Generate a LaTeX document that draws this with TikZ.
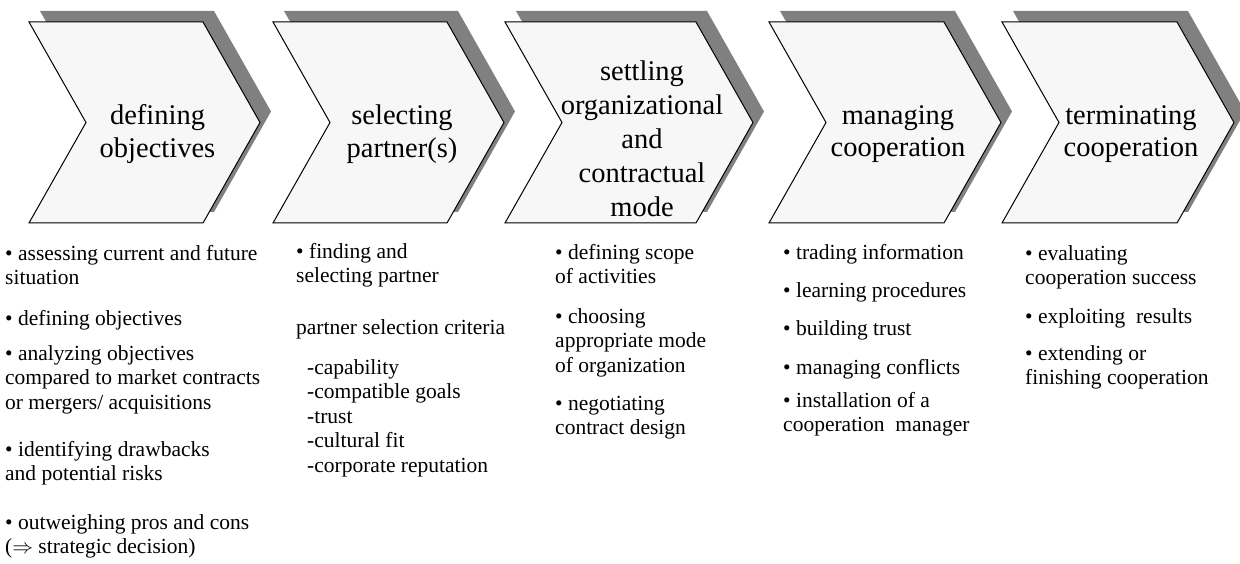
\documentclass[tikz,border=0pt]{standalone}
\usepackage{fontspec}
\setmainfont{Liberation Serif}
\usetikzlibrary{shadows, positioning}

\tikzset{
  stage/.style={draw=black, line width=1pt, fill=black!3, line join=miter,
    drop shadow={shadow xshift=11pt, shadow yshift=11pt, opacity=1, fill=black!50}},
  stagetext/.style={align=center, inner sep=0pt, font=\fontsize{28.5}{32.5}\selectfont},
  items/.style={anchor=north west, align=left, inner sep=0pt, font=\fontsize{21.5}{24.5}\selectfont}
}

\begin{document}
\begin{tikzpicture}[x=1pt, y=-1pt]
\useasboundingbox (0,0) rectangle (1240,564);

% the five phases
\foreach \x/\w in {29/174, 273/174, 505/191, 769/175, 1002/175}
  \draw[stage] (\x,22) -- ++(\w,0) -- ++(57,100.5) -- ++(-57,100.5) -- ++(-\w,0) -- ++(57,-100.5) -- cycle;

\node[stagetext] (objectives) at (157.5,134) {defining\\objectives};
\node[stagetext] (partner) at (402,134) {selecting\\partner(s)};
\node[stagetext, font=\fontsize{28.5}{34}\selectfont] (mode) at (642,139) {settling\\organizational\\and\\contractual\\mode};
\node[stagetext] (managing) at (898,134) {managing\\cooperation};
\node[stagetext] (terminating) at (1131,134) {terminating\\cooperation};

% what each phase involves
\node[items] (objlist) at (5,245) {\textbullet\ assessing current and future\\situation\\[16pt]
  \textbullet\ defining objectives\\[10.5pt]
  \textbullet\ analyzing objectives\\compared to market contracts\\or mergers/ acquisitions\\[22.5pt]
  \textbullet\ identifying drawbacks\\and potential risks\\[24pt]
  \textbullet\ outweighing pros and cons\\($\Rightarrow$ strategic decision)};

\node[items] (partnerlist) at (296,243) {\textbullet\ finding and\\selecting partner\\[27pt]
  partner selection criteria\\[15.5pt]
  \hspace*{11pt}-capability\\
  \hspace*{11pt}-compatible goals\\
  \hspace*{11pt}-trust\\
  \hspace*{11pt}-cultural fit\\
  \hspace*{11pt}-corporate reputation};

\node[items] (modelist) at (555,244) {\textbullet\ defining scope\\of activities\\[15pt]
  \textbullet\ choosing\\appropriate mode\\of organization\\[13.5pt]
  \textbullet\ negotiating\\contract design};

\node[items] (managelist) at (783,244) {\textbullet\ trading information\\[13.5pt]
  \textbullet\ learning procedures\\[13.5pt]
  \textbullet\ building trust\\[14.5pt]
  \textbullet\ managing conflicts\\[8.5pt]
  \textbullet\ installation of a\\cooperation~~manager};

\node[items] (terminlist) at (1025,245) {\textbullet\ evaluating\\cooperation success\\[14pt]
  \textbullet\ exploiting~~results\\[12.5pt]
  \textbullet\ extending or\\finishing cooperation};
\end{tikzpicture}
\end{document}
